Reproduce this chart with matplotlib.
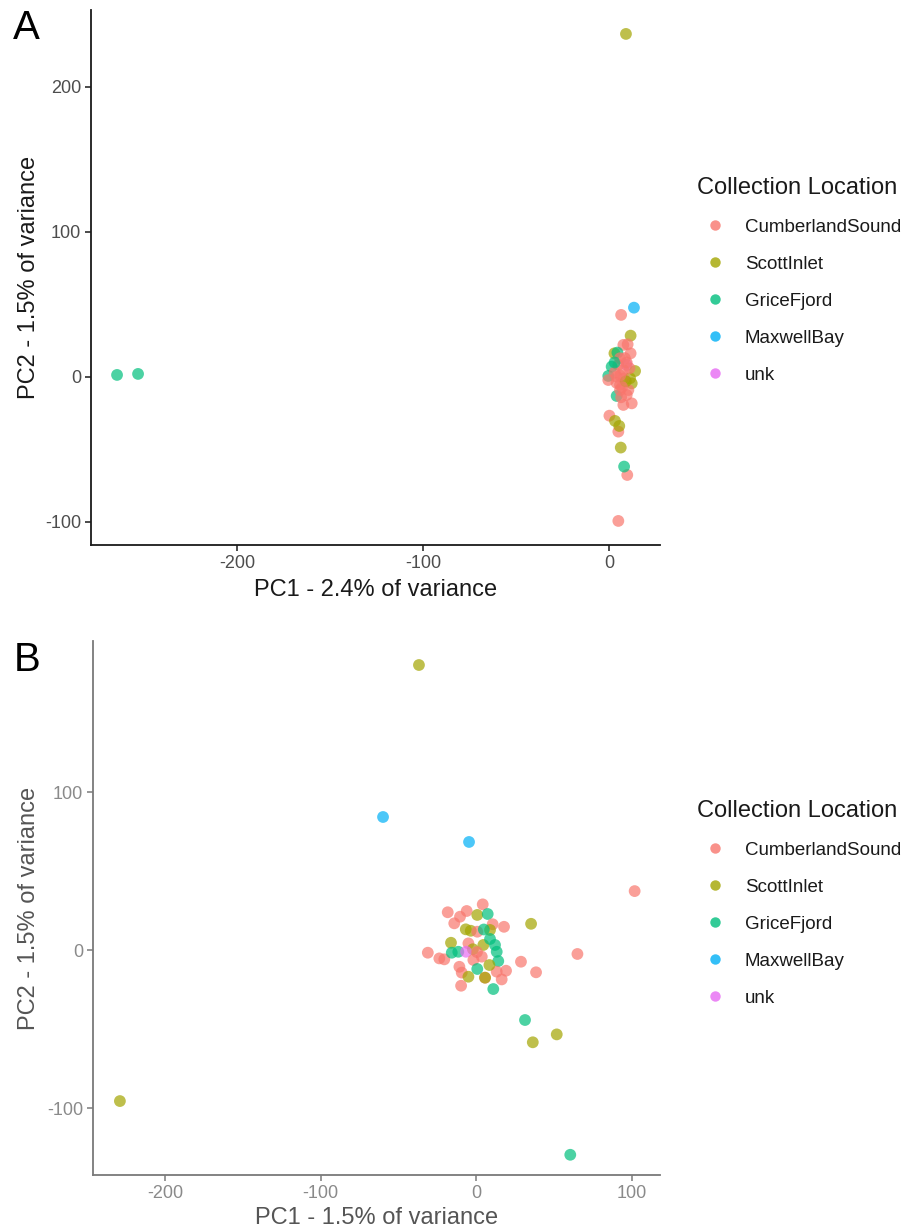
import matplotlib
matplotlib.use('Agg')
import matplotlib.pyplot as plt
from matplotlib.lines import Line2D

plt.rcParams['font.family'] = ['Liberation Sans', 'DejaVu Sans']
plt.rcParams['axes.unicode_minus'] = False

locations = ['CumberlandSound', 'ScottInlet', 'GriceFjord', 'MaxwellBay', 'unk']
palette = ['#F8766D', '#A3A500', '#00BF7D', '#00B0F6', '#E76BF3']

# ---------------- Panel A data ----------------
a_loc = ['ScottInlet', 'GriceFjord', 'GriceFjord', 'MaxwellBay',
         'CumberlandSound', 'ScottInlet', 'CumberlandSound', 'CumberlandSound', 'CumberlandSound',
         'ScottInlet', 'GriceFjord', 'CumberlandSound', 'unk', 'CumberlandSound', 'GriceFjord',
         'ScottInlet', 'CumberlandSound', 'GriceFjord', 'CumberlandSound', 'CumberlandSound',
         'ScottInlet', 'ScottInlet', 'CumberlandSound', 'CumberlandSound', 'GriceFjord',
         'CumberlandSound', 'CumberlandSound', 'CumberlandSound', 'CumberlandSound', 'CumberlandSound',
         'CumberlandSound', 'ScottInlet', 'ScottInlet', 'CumberlandSound', 'ScottInlet',
         'GriceFjord', 'CumberlandSound', 'CumberlandSound', 'CumberlandSound', 'CumberlandSound',
         'CumberlandSound', 'CumberlandSound', 'ScottInlet', 'GriceFjord', 'CumberlandSound',
         'CumberlandSound', 'CumberlandSound', 'CumberlandSound']
a_pc1 = [9.1, -264.5, -253.2, 13.4,
         6.5, 11.6, 7.7, 10.0, 11.6,
         2.9, 4.5, 5.9, 9.5, 5.0, 1.4,
         14.0, 7.7, -0.4, -0.4, 4.1,
         11.3, 12.2, 5.9, 10.4, 4.1,
         9.5, 7.7, 12.2, 5.9, 0.2,
         5.0, 3.2, 5.5, 9.8, 6.3,
         8.1, 5.0, 3.0, 8.0, 9.5,
         4.0, 6.5, 9.0, 3.0, 11.0,
         6.0, 7.0, 8.5]
a_pc2 = [236.6, 1.4, 2.1, 47.8,
         42.8, 28.5, 22.1, 22.5, 16.3,
         16.3, 16.8, 12.9, 8.3, 8.3, 7.1,
         4.1, 4.8, 0.7, -2.1, 0.2,
         -0.9, -4.4, -5.5, -9.0, -13.1,
         -12.4, -19.3, -18.2, -9.0, -26.7,
         -37.7, -30.3, -33.8, -67.6, -48.7,
         -61.8, -99.3, 3.0, -1.0, 10.0,
         -4.0, -14.0, -3.0, 10.0, 6.0,
         1.0, -7.0, 13.0]

# ---------------- Panel B data ----------------
b_loc = ['ScottInlet', 'MaxwellBay', 'MaxwellBay', 'CumberlandSound', 'ScottInlet',
         'CumberlandSound', 'CumberlandSound', 'CumberlandSound', 'CumberlandSound', 'CumberlandSound',
         'ScottInlet', 'GriceFjord', 'CumberlandSound', 'CumberlandSound', 'ScottInlet',
         'ScottInlet', 'ScottInlet', 'ScottInlet', 'CumberlandSound', 'GriceFjord',
         'ScottInlet', 'CumberlandSound', 'ScottInlet', 'GriceFjord', 'GriceFjord',
         'CumberlandSound', 'CumberlandSound', 'CumberlandSound', 'GriceFjord', 'GriceFjord',
         'unk', 'CumberlandSound', 'CumberlandSound', 'CumberlandSound', 'GriceFjord',
         'CumberlandSound', 'CumberlandSound', 'CumberlandSound', 'CumberlandSound', 'CumberlandSound',
         'ScottInlet', 'GriceFjord', 'CumberlandSound', 'CumberlandSound', 'ScottInlet',
         'CumberlandSound', 'ScottInlet', 'CumberlandSound', 'GriceFjord', 'CumberlandSound',
         'GriceFjord', 'ScottInlet', 'ScottInlet', 'ScottInlet', 'GriceFjord',
         'GriceFjord']
b_pc1 = [-36.7, -59.8, -4.5, 102.0, 35.4,
         -18.2, 4.3, -6.0, -10.3, -14.0,
         0.8, 7.5, 10.7, 18.0, -6.6,
         -3.4, 9.0, -16.1, 0.8, 5.0,
         4.7, -4.9, -2.0, 12.2, 13.3,
         -31.0, -23.6, -20.4, -15.6, -11.4,
         -6.4, 0.6, -1.7, 3.7, 14.3,
         28.9, 38.6, 19.3, 13.3, 16.5,
         8.6, 0.8, -10.7, -9.2, -4.9,
         5.8, 5.8, -9.6, 11.1, 65.2,
         31.5, 51.9, 36.5, -229.0, 60.6,
         9.0]
b_pc2 = [180.4, 84.2, 68.4, 37.3, 16.6,
         23.9, 28.9, 24.7, 21.1, 16.9,
         22.2, 22.8, 16.3, 14.7, 13.1,
         12.2, 12.7, 4.6, 11.6, 13.0,
         3.2, 4.2, 0.5, 3.2, -1.1,
         -1.7, -5.3, -5.9, -1.7, -1.1,
         -1.1, -1.3, -6.3, -4.2, -7.0,
         -7.4, -14.1, -13.1, -13.7, -18.6,
         -9.5, -12.0, -10.6, -14.3, -16.9,
         -17.5, -17.5, -22.6, -24.7, -2.5,
         -44.3, -53.4, -58.4, -95.6, -129.6,
         7.0]

xlabel_a = 'PC1 - 2.4% of variance'
ylabel_a = 'PC2 - 1.5% of variance'
xlabel_b = 'PC1 - 1.5% of variance'
ylabel_b = 'PC2 - 1.5% of variance'

color_of = dict(zip(locations, palette))

W, H = 907, 1230
fig = plt.figure(figsize=(W / 100, H / 100), dpi=100)


def style_axes(ax, line_col, tick_col, title_col):
    for s in ['top', 'right']:
        ax.spines[s].set_visible(False)
    for s in ['left', 'bottom']:
        ax.spines[s].set_color(line_col)
        ax.spines[s].set_linewidth(1.3)
    ax.tick_params(axis='both', which='major', length=4, width=1.1,
                   colors=line_col, labelcolor=tick_col, labelsize=13, pad=3)
    ax.xaxis.label.set_color(title_col)
    ax.yaxis.label.set_color(title_col)


def add_legend(top_px):
    handles = [Line2D([0], [0], marker='o', linestyle='none', markersize=7.5,
                      markerfacecolor=c, markeredgecolor='none', alpha=0.8)
               for c in palette]
    leg = fig.legend(handles, locations, title='Collection Location',
                     loc='upper left', bbox_to_anchor=(697 / W, 1 - top_px / H),
                     frameon=False, fontsize=13.5, title_fontsize=17,
                     alignment='left', labelspacing=1.06, handletextpad=0.65,
                     borderpad=0, borderaxespad=0, handlelength=1.9)
    leg.get_title().set_color('#1a1a1a')
    for t in leg.get_texts():
        t.set_color('#1a1a1a')
    return leg


# ---------------- Panel A ----------------
axA = fig.add_axes([91 / W, 1 - 545 / H, 569 / W, 535 / H])
axA.scatter(a_pc1, a_pc2, c=[color_of[l] for l in a_loc], s=72, alpha=0.7,
            edgecolors='none', zorder=3)
axA.set_xlim(-278.5, 27.4)
axA.set_ylim(-115.9, 253.1)
axA.set_xticks([-200, -100, 0])
axA.set_yticks([-100, 0, 100, 200])
axA.set_xlabel(xlabel_a, fontsize=17)
axA.set_ylabel(ylabel_a, fontsize=17)
axA.yaxis.set_label_coords((40 - 91) / 569, 0.5)
axA.xaxis.set_label_coords(0.5, -(579 - 545) / 535)
style_axes(axA, '#1a1a1a', '#4d4d4d', '#1a1a1a')
add_legend(177)
fig.text(26 / W, 1 - 28 / H, 'A', fontsize=29, ha='center', va='center', color='black')

# ---------------- Panel B ----------------
axB = fig.add_axes([93 / W, 1 - 1175 / H, 567 / W, 534 / H])
axB.scatter(b_pc1, b_pc2, c=[color_of[l] for l in b_loc], s=72, alpha=0.7,
            edgecolors='none', zorder=3)
axB.set_xlim(-246.3, 118.3)
axB.set_ylim(-142.4, 195.6)
axB.set_xticks([-200, -100, 0, 100])
axB.set_yticks([-100, 0, 100])
axB.set_xlabel(xlabel_b, fontsize=17)
axB.set_ylabel(ylabel_b, fontsize=17)
axB.yaxis.set_label_coords((40 - 93) / 567, 0.5)
axB.xaxis.set_label_coords(0.5, -(1207 - 1175) / 534)
style_axes(axB, '#7a7a7a', '#8a8a8a', '#555555')
add_legend(800)
fig.text(27 / W, 1 - 660 / H, 'B', fontsize=29, ha='center', va='center', color='black')

fig.savefig('out.png', dpi=100)
